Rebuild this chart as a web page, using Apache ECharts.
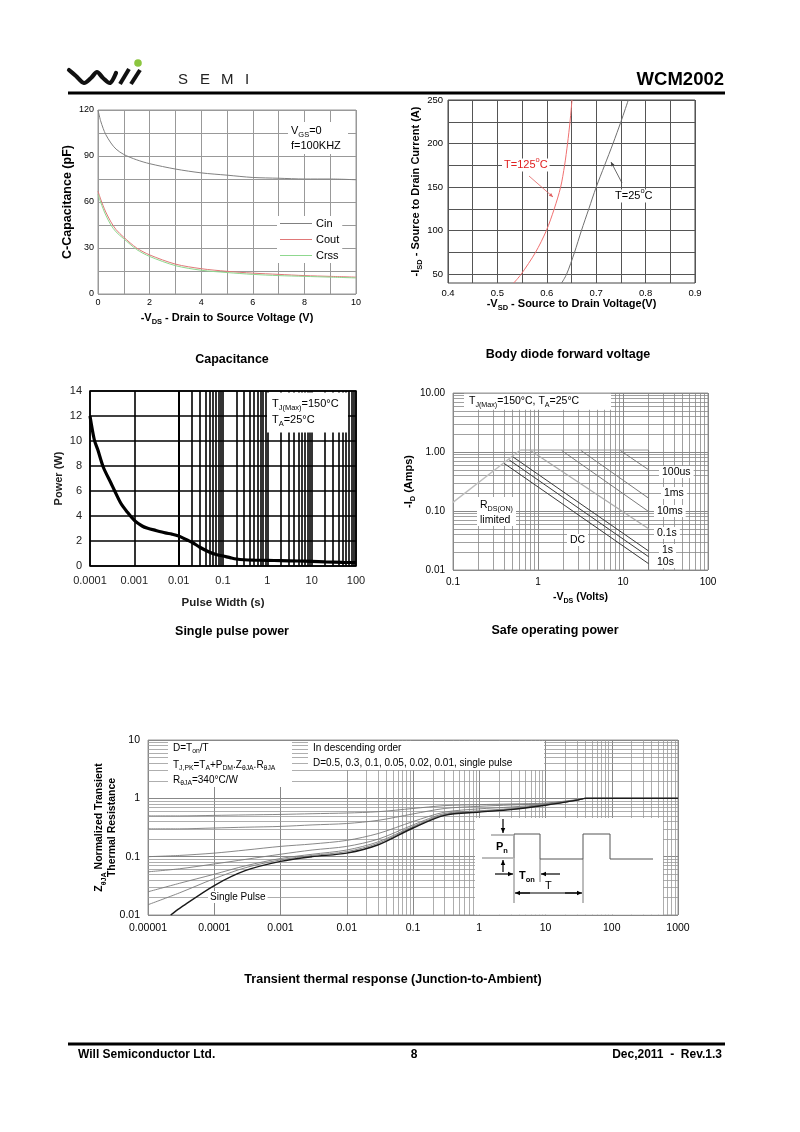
<!DOCTYPE html>
<html>
<head>
<meta charset="utf-8">
<title>WCM2002</title>
<script src="https://cdn.jsdelivr.net/npm/echarts@6.0.0/dist/echarts.min.js"></script>
<style>
html,body{margin:0;padding:0;background:#fff;}
#page{width:800px;height:1132px;}
</style>
</head>
<body>
<div id="page"></div>
<script>
// ---------- Capacitance ----------
const capVds  = [0, 0.1, 0.2, 0.3, 0.5, 0.7, 1, 1.5, 2, 3, 4, 5, 6, 7, 8, 9, 10];
const capCin  = [120, 113, 108, 104, 98.5, 94.5, 91, 87.5, 85, 81.5, 79, 77.5, 76, 75.5, 75, 75, 74.5];
const capCout = [67, 62, 57.5, 53.5, 47, 42, 37, 30, 25.5, 19.5, 16.5, 14.8, 13.6, 12.8, 12, 11.5, 11];
const capCrss = [65, 60, 55.5, 51.5, 45, 40.5, 36, 29, 24.5, 18.5, 15.5, 14, 12.8, 12, 11.5, 11, 10.5];
const capXLabels = [0, 2, 4, 6, 8, 10];
const capYLabels = [0, 30, 60, 90, 120];

// ---------- Body diode forward voltage ----------
const diodeI     = [40, 50, 75, 100, 125, 150, 175, 200, 225, 250];
const diodeV125C = [0.533, 0.548, 0.577, 0.599, 0.615, 0.628, 0.636, 0.642, 0.647, 0.651];
const diodeV25C  = [0.630, 0.640, 0.656, 0.670, 0.685, 0.700, 0.717, 0.734, 0.750, 0.765];
const diodeXLabels = ['0.4', '0.5', '0.6', '0.7', '0.8', '0.9'];
const diodeYLabels = [50, 100, 150, 200, 250];
const diodeYGrid   = [50, 75, 100, 125, 150, 175, 200, 225, 250];

// ---------- Single pulse power ----------
const pulseWidth = [0.0001, 0.000125, 0.00015, 0.0002, 0.0003, 0.00035, 0.0005, 0.0007, 0.001, 0.0015, 0.002, 0.003, 0.005, 0.007, 0.01, 0.015, 0.02, 0.03, 0.05, 0.07, 0.1, 0.15, 0.2, 0.3, 0.5, 1, 2, 5, 10, 20, 50, 100];
const pulsePower = [12, 10.1, 9.3, 7.9, 6.6, 6.1, 5.0, 4.3, 3.65, 3.2, 3.02, 2.85, 2.65, 2.55, 2.4, 2.1, 1.9, 1.5, 1.1, 0.92, 0.8, 0.65, 0.56, 0.5, 0.47, 0.45, 0.43, 0.4, 0.37, 0.33, 0.29, 0.27];
const pulseXLabels = ['0.0001', '0.001', '0.01', '0.1', '1', '10', '100'];

// ---------- Safe operating area ----------
const soaRdsLimit = [[0.1, 0.14], [0.62, 1.08]];
const soaCurrentLimit = [[0.62, 1.08], [20, 1.08]];
const soaVoltageLimit = [[20, 0.01], [20, 1.08]];
const soa100us = [[9.3, 1.06], [20, 0.5]];
const soa1ms   = [[3.2, 1.06], [20, 0.165]];
const soa10ms  = [[1.9, 1.06], [20, 0.098]];
const soa01s   = [[0.8, 1.08], [20, 0.05]];
const soa1s    = [[0.505, 0.83], [20, 0.021]];
const soa10s   = [[0.46, 0.73], [20, 0.0168]];
const soaDC    = [[0.40, 0.64], [20, 0.0128]];
const soaXLabels = ['0.1', '1', '10', '100'];
const soaYLabels = ['0.01', '0.10', '1.00', '10.00'];

// ---------- Transient thermal response ----------
const thTime  = [1e-5, 3e-5, 1e-4, 3e-4, 1e-3, 3e-3, 1e-2, 3e-2, 0.1, 0.3, 1, 3, 10, 30, 40, 100, 1000];
const thD05   = [0.5, 0.5, 0.51, 0.52, 0.53, 0.545, 0.56, 0.59, 0.67, 0.75, 0.78, 0.8, 0.83, 0.95, 1, 1, 1];
const thD03   = [0.3, 0.3, 0.31, 0.32, 0.33, 0.35, 0.37, 0.42, 0.54, 0.67, 0.73, 0.77, 0.81, 0.94, 1, 1, 1];
const thD01   = [0.1, 0.105, 0.115, 0.13, 0.15, 0.165, 0.19, 0.25, 0.4, 0.58, 0.66, 0.71, 0.79, 0.94, 1, 1, 1];
const thD005  = [0.055, 0.062, 0.075, 0.09, 0.11, 0.13, 0.15, 0.2, 0.35, 0.55, 0.61, 0.67, 0.78, 0.93, 1, 1, 1];
const thD002  = [0.025, 0.035, 0.05, 0.07, 0.093, 0.11, 0.13, 0.18, 0.33, 0.53, 0.6, 0.65, 0.77, 0.93, 1, 1, 1];
const thD001  = [0.015, 0.024, 0.042, 0.065, 0.088, 0.105, 0.122, 0.17, 0.32, 0.52, 0.59, 0.645, 0.77, 0.93, 1, 1, 1];
const thSingleTime = [2.2e-5, 3e-5, 1e-4, 3e-4, 1e-3, 3e-3, 1e-2, 3e-2, 0.1, 0.3, 1, 3, 10, 30, 40, 100, 1000];
const thSingle     = [0.01, 0.013, 0.032, 0.058, 0.083, 0.1, 0.115, 0.16, 0.31, 0.51, 0.58, 0.64, 0.76, 0.93, 1, 1, 1];
const thXLabels = ['0.00001', '0.0001', '0.001', '0.01', '0.1', '1', '10', '100', '1000'];
const thYLabels = ['0.01', '0.1', '1', '10'];

// ================= build =================
const FONT = '"Liberation Sans", Arial, Helvetica, sans-serif';
const zip = (xs, ys) => xs.map((x, i) => [x, ys[i]]);
const zipYX = (ys, xs) => ys.map((y, i) => [xs[i], y]);
const logLabel = (labels, minExp) => v => labels[Math.round(Math.log10(v)) - minExp] || '';
function minorVals(e0, e1) {
  const out = [];
  for (let e = e0; e < e1; e++) for (let k = 2; k <= 9; k++) out.push(+(k * Math.pow(10, e)).toPrecision(3));
  return out;
}
function gridLines(idx, axis, vals, color, width) {
  return {
    type: 'line', xAxisIndex: idx, yAxisIndex: idx, data: [], z: 1, silent: true,
    markLine: {
      silent: true, symbol: ['none', 'none'], label: { show: false }, animation: false,
      lineStyle: { color: color, width: width, type: 'solid' },
      emphasis: { disabled: true },
      data: vals.map(v => (axis === 'x' ? { xAxis: v } : { yAxis: v }))
    }
  };
}
const subRich = (size, bold) => ({
  sub: { fontSize: size * 0.68, fontFamily: FONT, fontWeight: bold ? 'bold' : 'normal', verticalAlign: 'bottom', padding: [0, 0, -2, 0] },
  sup: { fontSize: size * 0.68, fontFamily: FONT, fontWeight: bold ? 'bold' : 'normal', verticalAlign: 'top', padding: [-3, 0, 0, 0] }
});
function txt(x, y, text, o) {
  o = o || {};
  const size = o.size || 11;
  const st = {
    text: text, x: 0, y: 0, fontSize: size, fontFamily: FONT, fontWeight: o.bold ? 'bold' : 'normal',
    fill: o.color || '#000', align: o.align || 'left', verticalAlign: o.valign || 'middle',
    textAlign: o.align || 'left', textVerticalAlign: o.valign || 'middle',
    rich: subRich(size, o.bold)
  };
  for (const k in st.rich) st.rich[k].fill = o.color || '#000';
  if (o.bg) { st.backgroundColor = '#fff'; st.padding = o.pad || [1, 2, 1, 2]; }
  return { type: 'text', x: x, y: y, z: 20, silent: true, style: st };
}
function rect(x, y, w, h) {
  return { type: 'rect', z: 15, silent: true, shape: { x: x, y: y, width: w, height: h }, style: { fill: '#fff' } };
}
function seg(x1, y1, x2, y2, w, c) {
  return { type: 'line', z: 20, silent: true, shape: { x1: x1, y1: y1, x2: x2, y2: y2 }, style: { stroke: c || '#000', lineWidth: w || 1 } };
}
function arrowHead(x, y, dx, dy, size, c) {
  const L = Math.hypot(dx, dy), ux = dx / L, uy = dy / L, s = size || 5;
  const bx = x - ux * s, by = y - uy * s, px = -uy * s * 0.45, py = ux * s * 0.45;
  return { type: 'polygon', z: 20, silent: true, shape: { points: [[x, y], [bx + px, by + py], [bx - px, by - py]] }, style: { fill: c || '#000' } };
}
function arrow(x1, y1, x2, y2, w, c, s) {
  return [seg(x1, y1, x2, y2, w, c), arrowHead(x2, y2, x2 - x1, y2 - y1, s, c)];
}

const axisLabelBase = (size) => ({ color: '#000', fontSize: size, fontFamily: FONT });

const option = {
  animation: false,
  backgroundColor: '#fff',
  textStyle: { fontFamily: FONT },
  grid: [
    { left: 98, top: 110, width: 258, height: 184, show: true, borderColor: '#999', borderWidth: 1, backgroundColor: '#fff', outerBoundsMode: 'none' },
    { left: 448, top: 100, width: 247, height: 183, show: true, borderColor: '#444', borderWidth: 1, backgroundColor: '#fff', outerBoundsMode: 'none' },
    { left: 90, top: 391, width: 266, height: 175, show: true, borderColor: '#000', borderWidth: 1.5, backgroundColor: '#fff', outerBoundsMode: 'none' },
    { left: 453, top: 393, width: 255, height: 177, show: true, borderColor: '#999', borderWidth: 1, backgroundColor: '#fff', outerBoundsMode: 'none' },
    { left: 148, top: 740, width: 530, height: 175, show: true, borderColor: '#999', borderWidth: 1, backgroundColor: '#fff', outerBoundsMode: 'none' }
  ],
  legend: {
    data: ['Cin', 'Cout', 'Crss'], orient: 'vertical', left: 277, top: 216,
    itemWidth: 32, itemHeight: 1, itemGap: 5, icon: 'rect', backgroundColor: '#fff', padding: [2, 3, 2, 3],
    selectedMode: false, textStyle: { fontSize: 11, fontFamily: FONT, color: '#000', padding: [0, 0, 0, -1] }
  },
  xAxis: [
    { gridIndex: 0, type: 'value', min: 0, max: 10, interval: 1,
      axisLine: { show: false }, axisTick: { show: false },
      splitLine: { show: true, lineStyle: { color: '#999', width: 1 } },
      axisLabel: Object.assign(axisLabelBase(9), { margin: 4, formatter: v => (capXLabels.indexOf(v) >= 0 ? String(v) : '') }),
      name: '-V{sub|DS} - Drain to Source Voltage (V)', nameLocation: 'middle', nameGap: 18,
      nameTextStyle: { fontSize: 11, fontWeight: 'bold', fontFamily: FONT, color: '#000', rich: subRich(11, true) } },
    { gridIndex: 1, type: 'value', min: 0.4, max: 0.9, interval: 0.05,
      axisLine: { show: false }, axisTick: { show: false },
      splitLine: { show: true, lineStyle: { color: '#555', width: 1 } },
      axisLabel: Object.assign(axisLabelBase(9.5), { margin: 5, formatter: v => { const s = (Math.round(v * 100) / 100).toFixed(2); return diodeXLabels.indexOf(s.slice(0, 3)) >= 0 && s.endsWith('0') ? s.slice(0, 3) : ''; } }),
      name: '-V{sub|SD} - Source to Drain Voltage(V)', nameLocation: 'middle', nameGap: 15,
      nameTextStyle: { fontSize: 11, fontWeight: 'bold', fontFamily: FONT, color: '#000', rich: subRich(11, true) } },
    { gridIndex: 2, type: 'log', logBase: 10, min: 0.0001, max: 100,
      axisLine: { show: false }, axisTick: { show: false },
      splitLine: { show: true, lineStyle: { color: '#000', width: 1.6 } },
      axisLabel: Object.assign(axisLabelBase(11), { margin: 9, color: '#222', formatter: logLabel(pulseXLabels, -4) }),
      name: 'Pulse Width (s)', nameLocation: 'middle', nameGap: 31,
      nameTextStyle: { fontSize: 11.5, fontWeight: 'bold', fontFamily: FONT, color: '#222' } },
    { gridIndex: 3, type: 'log', logBase: 10, min: 0.1, max: 100,
      axisLine: { show: false }, axisTick: { show: false },
      splitLine: { show: true, lineStyle: { color: '#888', width: 1 } },
      axisLabel: Object.assign(axisLabelBase(10), { margin: 7, formatter: logLabel(soaXLabels, -1) }),
      name: '-V{sub|DS} (Volts)', nameLocation: 'middle', nameGap: 22,
      nameTextStyle: { fontSize: 10.5, fontWeight: 'bold', fontFamily: FONT, color: '#000', rich: subRich(10.5, true) } },
    { gridIndex: 4, type: 'log', logBase: 10, min: 0.00001, max: 1000,
      axisLine: { show: false }, axisTick: { show: false },
      splitLine: { show: true, lineStyle: { color: '#888', width: 1 } },
      axisLabel: Object.assign(axisLabelBase(10.5), { margin: 8, formatter: logLabel(thXLabels, -5) }) }
  ],
  yAxis: [
    { gridIndex: 0, type: 'value', min: 0, max: 120, interval: 15,
      axisLine: { show: false }, axisTick: { show: false },
      splitLine: { show: true, lineStyle: { color: '#999', width: 1 } },
      axisLabel: Object.assign(axisLabelBase(9), { margin: 4, formatter: v => (capYLabels.indexOf(v) >= 0 ? String(v) : '') }),
      name: 'C-Capacitance (pF)', nameLocation: 'middle', nameGap: 24, nameRotate: 90,
      nameTextStyle: { fontSize: 12.5, fontWeight: 'bold', fontFamily: FONT, color: '#000' } },
    { gridIndex: 1, type: 'value', min: 40, max: 250,
      axisLine: { show: false }, axisTick: { show: false, customValues: diodeYGrid },
      splitLine: { show: false },
      axisLabel: Object.assign(axisLabelBase(9.5), { margin: 5, customValues: diodeYLabels }),
      name: '-I{sub|SD} - Source to Drain Current (A)', nameLocation: 'middle', nameGap: 24, nameRotate: 90,
      nameTextStyle: { fontSize: 11, fontWeight: 'bold', fontFamily: FONT, color: '#000', rich: subRich(11, true) } },
    { gridIndex: 2, type: 'value', min: 0, max: 14, interval: 2,
      axisLine: { show: false }, axisTick: { show: false },
      splitLine: { show: true, lineStyle: { color: '#000', width: 1.6 } },
      axisLabel: Object.assign(axisLabelBase(11), { margin: 8, color: '#222' }),
      name: 'Power (W)', nameLocation: 'middle', nameGap: 26, nameRotate: 90,
      nameTextStyle: { fontSize: 11, fontWeight: 'bold', fontFamily: FONT, color: '#222' } },
    { gridIndex: 3, type: 'log', logBase: 10, min: 0.01, max: 10,
      axisLine: { show: false }, axisTick: { show: false },
      splitLine: { show: true, lineStyle: { color: '#888', width: 1 } },
      axisLabel: Object.assign(axisLabelBase(10), { margin: 8, formatter: logLabel(soaYLabels, -2) }),
      name: '-I{sub|D} (Amps)', nameLocation: 'middle', nameGap: 33, nameRotate: 90,
      nameTextStyle: { fontSize: 11, fontWeight: 'bold', fontFamily: FONT, color: '#000', rich: subRich(11, true) } },
    { gridIndex: 4, type: 'log', logBase: 10, min: 0.01, max: 10,
      axisLine: { show: false }, axisTick: { show: false },
      splitLine: { show: true, lineStyle: { color: '#888', width: 1 } },
      axisLabel: Object.assign(axisLabelBase(10.5), { margin: 8, formatter: logLabel(thYLabels, -2) }),
      name: 'Z{sub|θJA} Normalized Transient\nThermal Resistance', nameLocation: 'middle', nameGap: 29, nameRotate: 90,
      nameMoveOverlap: false,
      nameTextStyle: { fontSize: 10.5, fontWeight: 'bold', fontFamily: FONT, color: '#000', lineHeight: 13, rich: subRich(10.5, true) } }
  ],
  series: [],
  graphic: { elements: [] }
};

// ----- gridlines drawn through the axes' scales -----
option.series.push(gridLines(1, 'y', diodeYGrid, '#555', 1));
option.series.push(gridLines(2, 'x', minorVals(-4, 2), '#000', 1.6));
option.series.push(gridLines(3, 'x', minorVals(-1, 2), '#888', 0.8));
option.series.push(gridLines(3, 'y', minorVals(-2, 1), '#888', 0.8));
option.series.push(gridLines(4, 'x', minorVals(-5, 3), '#999', 0.8));
option.series.push(gridLines(4, 'y', minorVals(-2, 1), '#999', 0.8));

// ----- capacitance -----
const lineSeries = (name, idx, data, color, width, extra) => Object.assign({
  name: name, type: 'line', xAxisIndex: idx, yAxisIndex: idx, data: data, showSymbol: false, symbol: 'none',
  color: color, lineStyle: { color: color, width: width }, z: 5, silent: true, smooth: 0.3
}, extra || {});
option.series.push(lineSeries('Cin', 0, zip(capVds, capCin), '#808080', 1));
option.series.push(lineSeries('Cout', 0, zip(capVds, capCout), '#e07878', 1));
option.series.push(lineSeries('Crss', 0, zip(capVds, capCrss), '#8fd88f', 1));

// ----- diode -----
option.series.push(lineSeries('T=125°C', 1, zipYX(diodeI, diodeV125C), '#f07070', 1));
option.series.push(lineSeries('T=25°C', 1, zipYX(diodeI, diodeV25C), '#707070', 1));

// ----- pulse power -----
option.series.push(lineSeries('Power', 2, zip(pulseWidth, pulsePower), '#000', 3.2, { smooth: 0.3 }));

// ----- SOA -----
const soaS = (name, data, color, width) => lineSeries(name, 3, data, color, width || 1, { smooth: false });
option.series.push(soaS('RDS(ON) limited', soaRdsLimit, '#bdbdbd', 1.3));
option.series.push(soaS('current limit', soaCurrentLimit, '#9a9a9a', 1));
option.series.push(soaS('voltage limit', soaVoltageLimit, '#777', 1));
option.series.push(soaS('100us', soa100us, '#7a7a7a', 1));
option.series.push(soaS('1ms', soa1ms, '#7a7a7a', 1));
option.series.push(soaS('10ms', soa10ms, '#7a7a7a', 1));
option.series.push(soaS('0.1s', soa01s, '#aaaaaa', 1.2));
option.series.push(soaS('1s', soa1s, '#3a3a3a', 1));
option.series.push(soaS('10s', soa10s, '#3a3a3a', 1));
option.series.push(soaS('DC', soaDC, '#3a3a3a', 1));

// ----- thermal -----
const thS = (name, t, z, color, width) => lineSeries(name, 4, zip(t, z), color, width, { smooth: 0.3 });
option.series.push(thS('D=0.5', thTime, thD05, '#7a7a7a', 0.9));
option.series.push(thS('D=0.3', thTime, thD03, '#7a7a7a', 0.9));
option.series.push(thS('D=0.1', thTime, thD01, '#7a7a7a', 0.9));
option.series.push(thS('D=0.05', thTime, thD005, '#7a7a7a', 0.9));
option.series.push(thS('D=0.02', thTime, thD002, '#7a7a7a', 0.9));
option.series.push(thS('D=0.01', thTime, thD001, '#7a7a7a', 0.9));
option.series.push(thS('single pulse', thSingleTime, thSingle, '#1a1a1a', 1.4));

// ----- page graphics: header, footer, annotations -----
const G = option.graphic.elements;
// header logo
G.push({ type: 'polyline', z: 20, silent: true, shape: { points: [[69, 70], [76, 76], [84, 83], [91, 78], [97, 72], [103, 78], [110, 83], [116, 73]], smooth: 0.3 }, style: { stroke: '#111', lineWidth: 4.2, lineCap: 'round', lineJoin: 'round', fill: null } });
G.push(seg(120, 84, 129, 69, 4, '#111'));
G.push(seg(131, 84, 140, 70, 4, '#111'));
G.push({ type: 'circle', z: 20, silent: true, shape: { cx: 138, cy: 63, r: 3.8 }, style: { fill: '#8cc63f' } });
[['S', 178], ['E', 200], ['M', 221], ['I', 245]].forEach(p => G.push(txt(p[1], 80, p[0], { size: 15, color: '#222' })));
G.push(txt(724, 80, 'WCM2002', { size: 18.5, bold: true, align: 'right' }));
G.push(seg(68, 93, 725, 93, 3, '#000'));
// footer
G.push(seg(68, 1044, 725, 1044, 3, '#000'));
G.push(txt(78, 1055, 'Will Semiconductor Ltd.', { size: 12, bold: true }));
G.push(txt(414, 1055, '8', { size: 12, bold: true, align: 'center' }));
G.push(txt(722, 1055, 'Dec,2011  -  Rev.1.3', { size: 12, bold: true, align: 'right' }));

// captions
G.push(txt(232, 360, 'Capacitance', { size: 12.5, bold: true, align: 'center' }));
G.push(txt(568, 355, 'Body diode forward voltage', { size: 12.5, bold: true, align: 'center' }));
G.push(txt(232, 632, 'Single pulse power', { size: 12.5, bold: true, align: 'center' }));
G.push(txt(555, 631, 'Safe operating power', { size: 12.5, bold: true, align: 'center' }));
G.push(txt(393, 980, 'Transient thermal response (Junction-to-Ambient)', { size: 12.5, bold: true, align: 'center' }));

// capacitance annotation
G.push(rect(288, 122, 60, 32));
G.push(txt(291, 131, 'V{sub|GS}=0', { size: 11 }));
G.push(txt(291, 146, 'f=100KHZ', { size: 11 }));

// diode annotations
G.push(txt(502, 165, 'T=125{sup|o}C', { size: 11, color: '#e02020', bg: true }));
G.push(...arrow(529, 176, 553, 197, 0.8, '#e06060', 4));
G.push(txt(613, 196, 'T=25{sup|o}C', { size: 11, bg: true }));
G.push(...arrow(622, 183, 611, 162, 0.8, '#444', 4));

// pulse power annotation
G.push(rect(267, 392.5, 81, 40));
G.push(txt(272, 404, 'T{sub|J(Max)}=150°C', { size: 11 }));
G.push(txt(272, 420, 'T{sub|A}=25°C', { size: 11 }));

// SOA annotations
G.push(rect(464, 393.8, 147, 16));
G.push(txt(469, 401, 'T{sub|J(Max)}=150°C, T{sub|A}=25°C', { size: 10.5 }));
G.push(rect(477, 497, 39, 29));
G.push(txt(480, 505, 'R{sub|DS(ON)}', { size: 10.5 }));
G.push(txt(480, 520, 'limited', { size: 10.5 }));
[['100us', 659, 472], ['1ms', 661, 493], ['10ms', 654, 511], ['0.1s', 654, 533], ['1s', 659, 550], ['10s', 654, 562], ['DC', 567, 540]]
  .forEach(p => G.push(txt(p[1], p[2], p[0], { size: 10.5, bg: true, pad: [1, 3, 0, 3] })));

// thermal annotations
G.push(rect(168, 741, 124, 46));
G.push(txt(173, 748, 'D=T{sub|on}/T', { size: 10 }));
G.push(txt(173, 765, 'T{sub|J,PK}=T{sub|A}+P{sub|DM}.Z{sub|θJA}.R{sub|θJA}', { size: 10 }));
G.push(txt(173, 780, 'R{sub|θJA}=340°C/W', { size: 10 }));
G.push(rect(308, 741, 236, 29));
G.push(txt(313, 748, 'In descending order', { size: 10 }));
G.push(txt(313, 763, 'D=0.5, 0.3, 0.1, 0.05, 0.02, 0.01, single pulse', { size: 10 }));
G.push(txt(208, 897, 'Single Pulse', { size: 10, bg: true }));
// inset pulse diagram
G.push(rect(475, 818, 188, 96.5));
G.push({ type: 'polyline', z: 20, silent: true, shape: { points: [[514, 858], [514, 834], [540, 834], [540, 859], [583, 859], [583, 834], [610, 834], [610, 859], [653, 859]] }, style: { stroke: '#555', lineWidth: 1, fill: null } });
G.push(seg(491, 835, 513, 835, 0.8, '#555'));
G.push(seg(482, 858, 513, 858, 0.8, '#555'));
G.push(seg(514, 858, 514, 903, 0.8, '#555'));
G.push(seg(540, 859, 540, 882, 0.8, '#555'));
G.push(seg(583, 859, 583, 903, 0.8, '#555'));
G.push(...arrow(503, 819, 503, 833, 1.2, '#000', 5));
G.push(...arrow(503, 872, 503, 860, 1.2, '#000', 5));
G.push(...arrow(495, 874, 513, 874, 1.2, '#000', 5));
G.push(...arrow(560, 874, 541, 874, 1.2, '#000', 5));
G.push(...arrow(530, 893, 515, 893, 1.2, '#000', 5));
G.push(...arrow(565, 893, 582, 893, 1.2, '#000', 5));
G.push(seg(520, 893, 577, 893, 1.2, '#000'));
G.push(txt(496, 847, 'P{sub|n}', { size: 11, bold: true }));
G.push(txt(519, 876, 'T{sub|on}', { size: 11, bold: true }));
G.push(txt(545, 886, 'T', { size: 11 }));

const chart = echarts.init(document.getElementById('page'), null, { renderer: 'canvas' });
chart.setOption(option);
</script>
</body>
</html>
